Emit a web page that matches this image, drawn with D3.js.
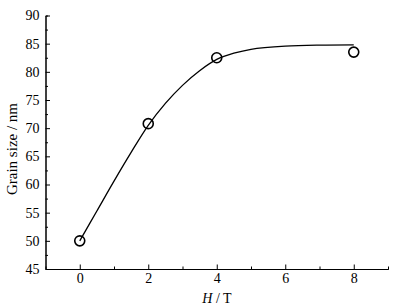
<!DOCTYPE html>
<html lang="en">
<head>
<meta charset="utf-8">
<title>grain size</title>
<script src="https://d3js.org/d3.v7.min.js"></script>
<style>
  body { margin: 0; background: #fff; }
  text { font-family: "Liberation Serif", "DejaVu Serif", serif; fill: #000; }
</style>
</head>
<body>
<svg id="chart" width="395" height="308"></svg>
<script>
// measured points
var fieldT = [0, 2, 4, 8]
var grainNm = [50, 70.8, 82.5, 83.5]

// fitted curve
var fitT = [0, 0.5, 1, 1.5, 2, 2.5, 3, 3.5, 4, 4.5, 5, 6, 7, 8]
var fitNm = [50, 55.3, 60.6, 65.7, 70.5, 74.4, 77.6, 80.2, 82.2, 83.3, 84.0, 84.55, 84.75, 84.8]

var xMajor = [0, 2, 4, 6, 8]
var xMinor = [1, 3, 5, 7]
var yMajor = [45, 50, 55, 60, 65, 70, 75, 80, 85, 90]
var yMinor = [47.5, 52.5, 57.5, 62.5, 67.5, 72.5, 77.5, 82.5, 87.5]

var margin = {left: 45.5, right: 7, top: 15.5, bottom: 39}
var W = 395, H = 308

var svg = d3.select("#chart")

var x = d3.scaleLinear().domain([-1, 9]).range([margin.left, W - margin.right])
var y = d3.scaleLinear().domain([45, 90]).range([H - margin.bottom, margin.top])

// minor ticks first
svg.append("g")
  .attr("transform", "translate(0," + y(45) + ")")
  .call(d3.axisBottom(x).tickValues(xMinor).tickSize(-2.5).tickFormat(""))
svg.append("g")
  .attr("transform", "translate(" + x(-1) + ",0)")
  .call(d3.axisLeft(y).tickValues(yMinor).tickSize(-2.5).tickFormat(""))

var xAxis = svg.append("g")
  .attr("transform", "translate(0," + y(45) + ")")
  .call(d3.axisBottom(x).tickValues(xMajor).tickSize(-4.5).tickPadding(4).tickSizeOuter(0))
var yAxis = svg.append("g")
  .attr("transform", "translate(" + x(-1) + ",0)")
  .call(d3.axisLeft(y).tickValues(yMajor).tickSize(-4.5).tickPadding(6).tickSizeOuter(0))

svg.selectAll(".tick text").style("font-size", "14px").style("font-family", "Liberation Serif")
svg.selectAll(".domain, .tick line").attr("stroke", "#000").attr("stroke-width", 1)

// curve
var line = d3.line()
  .x(function(d, i) { return x(fitT[i]) })
  .y(function(d) { return y(d) })
  .curve(d3.curveCatmullRom.alpha(0.5))

svg.append("path")
  .datum(fitNm)
  .attr("d", line)
  .attr("fill", "none")
  .attr("stroke", "#000")
  .attr("stroke-width", 1.3)

svg.selectAll("circle.pt")
  .data(grainNm)
  .enter()
  .append("circle")
  .attr("class", "pt")
  .attr("cx", function(d, i) { return x(fieldT[i]) })
  .attr("cy", function(d) { return y(d) })
  .attr("r", 5)
  .attr("fill", "none")
  .attr("stroke", "#000")
  .attr("stroke-width", 1.6)

// axis titles
svg.append("text")
  .attr("transform", "translate(17," + 149 + ") rotate(-90)")
  .attr("text-anchor", "middle")
  .style("font-size", "15px")
  .text("Grain size / nm")

var xt = svg.append("text")
  .attr("x", 217)
  .attr("y", 303)
  .attr("text-anchor", "middle")
  .style("font-size", "14px")
xt.append("tspan").style("font-style", "italic").text("H")
xt.append("tspan").text(" / T")
</script>
</body>
</html>
